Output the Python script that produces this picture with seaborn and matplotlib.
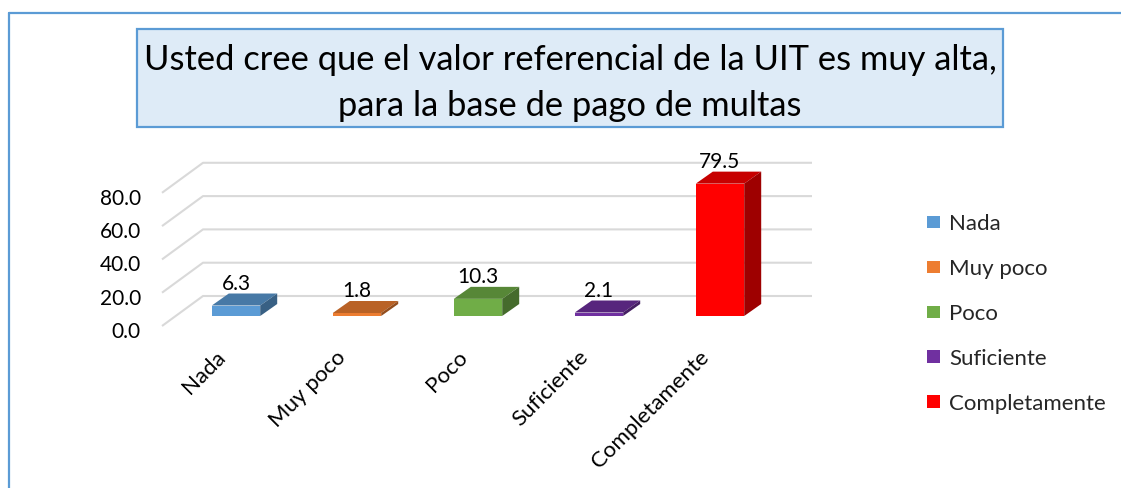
import matplotlib
matplotlib.use("Agg")
import matplotlib.pyplot as plt
import seaborn as sns
import numpy as np
from matplotlib.patches import Polygon, Rectangle, Patch
from matplotlib.lines import Line2D
import matplotlib.colors as mcolors

# ---------------- data ----------------
categories = ["Nada", "Muy poco", "Poco", "Suficiente", "Completamente"]
values = [6.3, 1.8, 10.3, 2.1, 79.5]
value_labels = ["6.3", "1.8", "10.3", "2.1", "79.5"]
bar_colors = ["#5B9BD5", "#ED7D31", "#70AD47", "#7030A0", "#FF0000"]
y_ticks = [0, 20, 40, 60, 80]
y_tick_labels = ["0.0", "20.0", "40.0", "60.0", "80.0"]
title_lines = ["Usted cree que el valor referencial de la UIT es muy alta,",
               "para la base de pago de multas"]

# ---------------- layout (pixel geometry) ----------------
W, H = 1121, 488
FONT = ["Lato", "DejaVu Sans"]
X0, PXX = 236.0, 121.0      # pixel x of first category, px per category
Y0, PXY = 316.0, 1.665      # pixel y of bar base, px per value unit


def dx(px):
    return px / PXX


def dy(px):
    return px / PXY


sns.set_theme(style="white")
plt.rcParams["font.family"] = FONT

fig = plt.figure(figsize=(W / 100, H / 100), dpi=100)
ax = fig.add_axes([0, 0, 1, 1])

sns.barplot(x=categories, y=values, hue=categories, palette=bar_colors,
            width=0.4, linewidth=0, saturation=1, ax=ax, zorder=3, legend=True)

ax.set_xlim(-X0 / PXX, (W - X0) / PXX)
ax.set_ylim(-(H - Y0) / PXY, Y0 / PXY)
ax.axis("off")

# ---------------- pseudo-3D gridlines ----------------
grid_c = "#D9D9D9"
for v in y_ticks:
    xs = [dx(162 - X0), dx(203 - X0), dx(812 - X0)]
    ys = [v - dy(10), v + dy(20), v + dy(20)]
    ax.plot(xs, ys, color=grid_c, lw=1.5, zorder=1, solid_capstyle="butt")

for v, lab in zip(y_ticks, y_tick_labels):
    ax.text(dx(141 - X0), v - dy(16), lab, ha="right", va="center",
            fontsize=15, color="#000000", family=FONT)

# ---------------- 3D faces for each bar ----------------
def shade(c, f):
    r, g, b = mcolors.to_rgb(c)
    return (r * f, g * f, b * f)

ddx, ddy = dx(17), dy(12)
bars = {}
for p in ax.patches:
    if isinstance(p, Rectangle):
        h = p.get_height()
        if np.isfinite(h) and h > 0 and np.isfinite(p.get_x()):
            idx = int(round(p.get_x() + p.get_width() / 2))
            bars[idx] = p
for i, c in enumerate(bar_colors):
    if i not in bars:
        continue
    p = bars[i]
    x0, w, h = p.get_x(), p.get_width(), p.get_height()
    top = Polygon([(x0, h), (x0 + w, h), (x0 + w + ddx, h + ddy), (x0 + ddx, h + ddy)],
                  closed=True, facecolor=shade(c, 0.78), edgecolor="none", zorder=3)
    side = Polygon([(x0 + w, 0), (x0 + w, h), (x0 + w + ddx, h + ddy), (x0 + w + ddx, ddy)],
                   closed=True, facecolor=shade(c, 0.62), edgecolor="none", zorder=3)
    ax.add_patch(top)
    ax.add_patch(side)

# value labels
for i, (v, lab) in enumerate(zip(values, value_labels)):
    ax.text(i, v + dy(12) + dy(10), lab, ha="center", va="center",
            fontsize=15, color="#000000", family=FONT, zorder=5)

# category labels (rotated)
for i, lab in enumerate(categories):
    xpx = X0 + i * PXX - 7
    ax.text(dx(xpx - X0), -dy(347 - Y0), lab, rotation=45, ha="right", va="top",
            fontsize=16, color="#000000", family=FONT)

# ---------------- legend ----------------
old = ax.get_legend()
if old is not None:
    handles = list(old.legend_handles)
    labels = [t.get_text() for t in old.get_texts()]
    old.remove()
else:
    handles = [Patch(facecolor=c) for c in bar_colors]
    labels = list(categories)
leg = ax.legend(handles, labels, loc="upper left",
                bbox_to_anchor=(927 / W, 1 - 214 / H), bbox_transform=fig.transFigure,
                frameon=False, prop={"family": FONT, "size": 16},
                handlelength=0.6, handleheight=0.5, handletextpad=0.4,
                labelspacing=1.12, borderpad=0, borderaxespad=0)

# ---------------- frame & title box ----------------
frame_c = "#5B9BD5"
fig.add_artist(Line2D([9 / W, 1], [1 - 13 / H, 1 - 13 / H], transform=fig.transFigure,
                      color=frame_c, lw=1.6))
fig.add_artist(Line2D([9 / W, 9 / W], [1 - 13 / H, 0], transform=fig.transFigure,
                      color=frame_c, lw=1.6))
fig.add_artist(Rectangle((137 / W, 1 - 127 / H), (1003 - 137) / W, (127 - 29) / H,
                         transform=fig.transFigure, facecolor="#DEEBF7",
                         edgecolor=frame_c, lw=1.6, zorder=0))

t1 = fig.text(570 / W, 1 - 70 / H, title_lines[0], ha="center", va="baseline",
              fontsize=22, family=FONT, color="#000000")
t2 = fig.text(570 / W, 1 - 116 / H, title_lines[1], ha="center", va="baseline",
              fontsize=22, family=FONT, color="#000000")
renderer = fig.canvas.get_renderer()
wpx = t1.get_window_extent(renderer).width
fs = 22 * 850.0 / wpx
t1.set_fontsize(fs)
t2.set_fontsize(fs)

fig.savefig("out.png", dpi=100)
